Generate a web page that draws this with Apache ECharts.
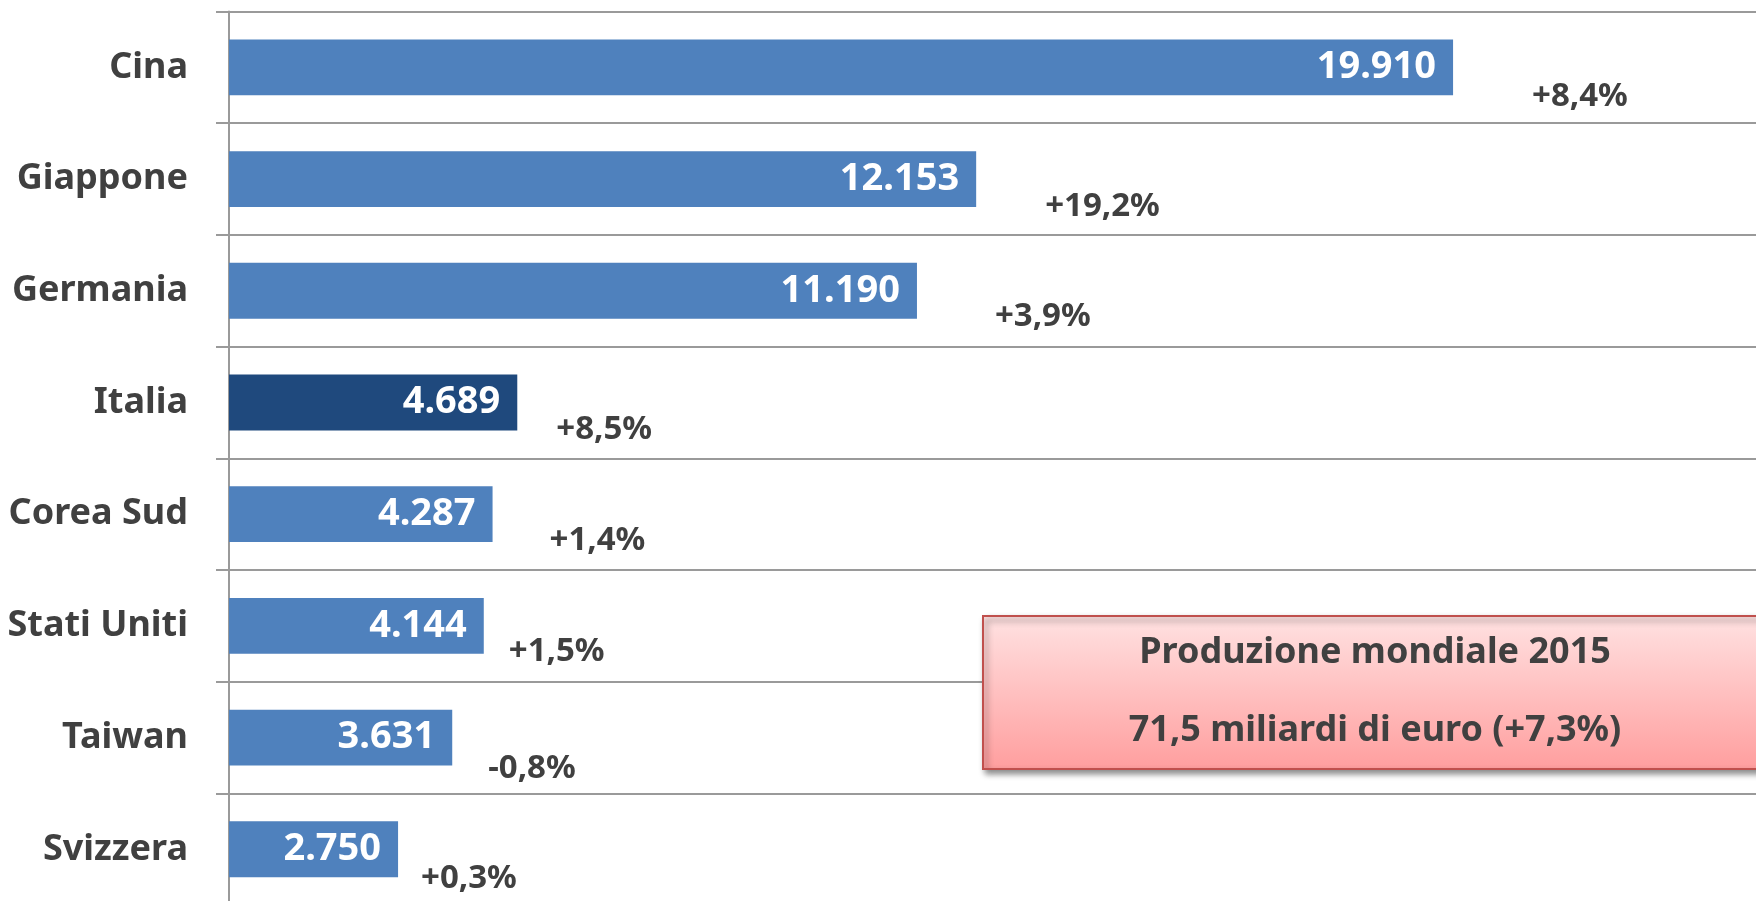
<!DOCTYPE html>
<html>
<head>
<meta charset="utf-8">
<script src="https://cdn.jsdelivr.net/npm/echarts@6/dist/echarts.min.js"></script>
<style>
  html, body { margin: 0; padding: 0; background: #fff; }
  #chart { width: 1756px; height: 901px; }
</style>
</head>
<body>
<div id="chart"></div>
<script>
// dati
const countries = ['Cina', 'Giappone', 'Germania', 'Italia', 'Corea Sud', 'Stati Uniti', 'Taiwan', 'Svizzera'];
const values = [19910, 12153, 11190, 4689, 4287, 4144, 3631, 2750];
const growth = ['+8,4%', '+19,2%', '+3,9%', '+8,5%', '+1,4%', '+1,5%', '-0,8%', '+0,3%'];
const highlight = 'Italia';

// posizione etichette variazione (spostate a mano come nell'originale)
const growthDx = [79, 69, 78, 39, 57, 25, 36, 23];
const growthDy = [29, 28, 26, 27, 26, 26, 31, 29];

const FONT = 'Noto Sans';
const fmt = v => String(v).replace(/\B(?=(\d{3})+(?!\d))/g, '.');

let chart = echarts.init(document.getElementById('chart'));
chart.setOption({
  animation: false,
  grid: {
    left: 229, top: 11.5, width: 1537, height: 893.6,
    containLabel: false, outerBoundsMode: 'none'
  },
  xAxis: {
    type: 'value', min: 0, max: 25000,
    show: false,
    splitLine: {show: false}
  },
  yAxis: {
    type: 'category',
    inverse: true,
    data: countries,
    axisLine: {show: true, lineStyle: {color: '#9a9a9a', width: 2}},
    axisTick: {show: true, length: 13, lineStyle: {color: '#9a9a9a', width: 2}},
    splitLine: {show: true, lineStyle: {color: '#9a9a9a', width: 2}},
    axisLabel: {
      margin: 41,
      color: '#404040',
      fontFamily: FONT,
      fontWeight: 'bold',
      fontSize: 36
    }
  },
  series: [
    {
      type: 'bar',
      barCategoryGap: '50%',
      data: values.map((v, i) => ({
        value: v,
        itemStyle: {color: countries[i] === highlight ? '#1F497D' : '#4F81BD'}
      })),
      label: {
        show: true,
        position: 'insideRight',
        distance: 17,
        color: '#fff',
        fontFamily: FONT,
        fontWeight: 'bold',
        fontSize: 38,
        formatter: p => fmt(p.value)
      }
    },
    {
      type: 'bar',
      barGap: '-100%',
      barCategoryGap: '50%',
      silent: true,
      itemStyle: {color: 'rgba(0,0,0,0)'},
      data: values.map((v, i) => ({
        value: v,
        label: {offset: [growthDx[i], growthDy[i]]}
      })),
      label: {
        show: true,
        position: 'right',
        distance: 0,
        color: '#404040',
        fontFamily: FONT,
        fontWeight: 'bold',
        fontSize: 33,
        formatter: p => growth[p.dataIndex]
      }
    }
  ],
  graphic: [
    {
      type: 'rect',
      left: 982, top: 615,
      shape: {width: 820, height: 153},
      style: {
        fill: {
          type: 'linear', x: 0, y: 0, x2: 0, y2: 1,
          colorStops: [{offset: 0, color: '#ffe2e2'}, {offset: 1, color: '#ff9e9e'}]
        },
        stroke: '#c0504d',
        lineWidth: 2,
        shadowBlur: 6,
        shadowOffsetX: 3,
        shadowOffsetY: 4,
        shadowColor: 'rgba(0,0,0,0.45)'
      },
      z: 10
    },
    {
      type: 'text',
      x: 1375, y: 653,
      style: {
        text: 'Produzione mondiale 2015',
        align: 'center', verticalAlign: 'middle',
        fill: '#404040', font: 'bold 36px "Noto Sans"'
      },
      z: 11
    },
    {
      type: 'text',
      x: 1375, y: 731,
      style: {
        text: '71,5 miliardi di euro (+7,3%)',
        align: 'center', verticalAlign: 'middle',
        fill: '#404040', font: 'bold 36px "Noto Sans"'
      },
      z: 11
    }
  ]
});
</script>
</body>
</html>
